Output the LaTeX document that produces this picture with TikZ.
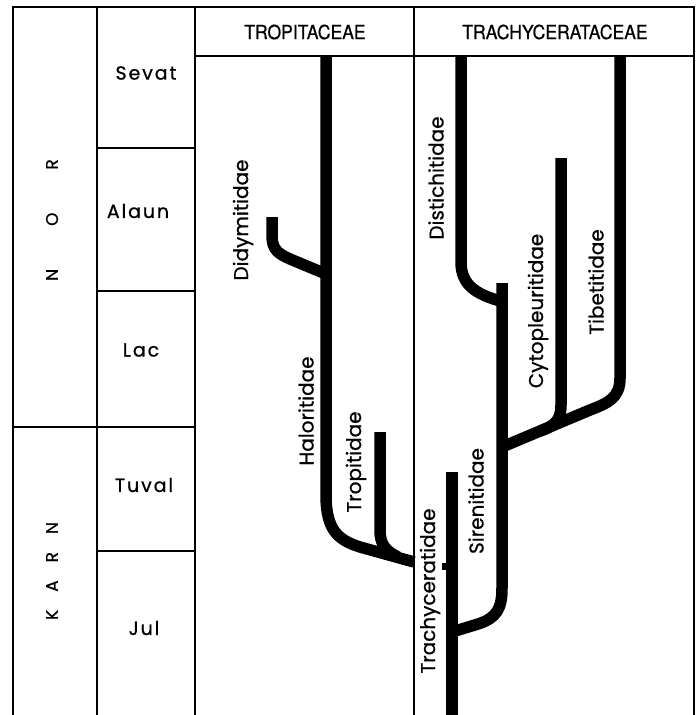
\documentclass[tikz,border=0pt]{standalone}
\usepackage{fontspec}
\setmainfont{Poppins}[FakeBold=0.7]
\newfontfamily\headfont[FakeStretch=0.9,FakeBold=0.6]{TeX Gyre Heros}

\begin{document}
\begin{tikzpicture}[
    x=1pt, y=-1pt,
    rule/.style={line width=1.6pt},
    lineage/.style={line width=11.5pt, line cap=butt, line join=round},
    taxon/.style={rotate=90, inner sep=0pt, font=\fontsize{20}{20}\selectfont},
    stage/.style={inner sep=0pt, font=\fontsize{19}{19}\selectfont\addfontfeature{LetterSpace=10}},
    era/.style={rotate=90, inner sep=0pt, font=\fontsize{17}{17}\selectfont},
    head/.style={inner sep=0pt, font=\headfont\fontsize{19.5}{19.5}\selectfont}
]
\useasboundingbox (0,0) rectangle (699,715);

% frame of the table
\draw[rule] (13,715) -- (13,7) -- (694,7) -- (694,715);
\draw[rule] (97,7) -- (97,715);
\draw[rule] (195,7) -- (195,715);
\draw[rule] (414,7) -- (414,715);
\draw[rule] (195,56) -- (694,56);
\draw[rule] (97,148) -- (195,148);
\draw[rule] (97,291) -- (195,291);
\draw[rule] (13,427) -- (195,427);
\draw[rule] (97,551) -- (195,551);

% headers, stages
\node[head] (tropi) at (305,32) {TROPITACEAE};
\node[head] (trachy) at (555,32) {TRACHYCERATACEAE};
\node[era] (nor) at (52,220) {N\hspace{43pt}O\hspace{43pt}R};
\node[era] (karn) at (52,571) {K\hspace{18pt}A\hspace{18pt}R\hspace{18pt}N};
\node[stage] (sevat) at (146,73) {Sevat};
\node[stage] (alaun) at (138,211) {Alaun};
\node[stage] (lac) at (141,350) {Lac};
\node[stage] (tuval) at (144,485) {Tuval};
\node[stage] (jul) at (144,628) {Jul};

% branch points
\coordinate (halo-top) at (326,56);
\coordinate (halo-end) at (414,562);
\coordinate (trop-top) at (380,432);
\coordinate (didy-top) at (272,217);
\coordinate (trach-top) at (452,472);
\coordinate (trach-end) at (452,715);
\coordinate (sir-top) at (502,283);
\coordinate (dist-top) at (461,56);
\coordinate (cyto-top) at (561,158);
\coordinate (tib-top) at (620,56);

% lineages
\draw[lineage] (halo-top) -- (326,495) .. controls (326,530) and (338,540) .. (360,547) -- (halo-end);
\draw[lineage] (trop-top) -- (380,530) .. controls (380,545) and (386,551) .. (398,557);
\draw[lineage] (didy-top) -- (272,236) .. controls (272,250) and (279,254) .. (290,259) -- (326,274);
\draw[lineage] (trach-top) -- (trach-end);
\fill (442,563) rectangle (448,570);
\draw[lineage] (452,632) -- (478,624) .. controls (497,618) and (502,608) .. (502,588) -- (sir-top);
\draw[lineage] (dist-top) -- (461,262) .. controls (461,285) and (476,294) .. (500,301);
\draw[lineage] (tib-top) -- (620,378) .. controls (620,398) and (608,403) .. (590,410) -- (502,447);
\draw[lineage] (cyto-top) -- (561,405) .. controls (561,420) and (555,426) .. (540,431);

% family names
\node[taxon] (didy) at (243,220) {Didymitidae};
\node[taxon] (halo) at (306,411) {Haloritidae};
\node[taxon] (trop) at (356,462) {Tropitidae};
\node[taxon] (trach) at (430,591) {Trachyceratidae};
\node[taxon] (sir) at (476,501) {Sirenitidae};
\node[taxon] (dist) at (436,178) {Distichitidae};
\node[taxon] (cyto) at (538,311) {Cytopleuritidae};
\node[taxon] (tib) at (596,282) {Tibetitidae};
\end{tikzpicture}
\end{document}
